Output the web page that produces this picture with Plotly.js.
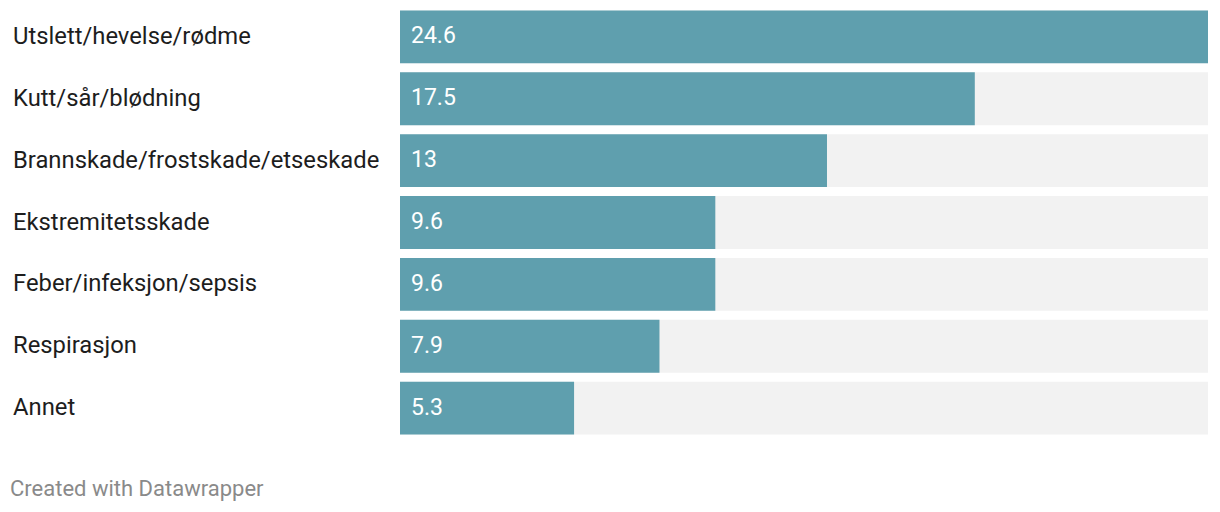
<!DOCTYPE html>
<html>
<head>
<meta charset="utf-8">
<script src="https://cdn.plot.ly/plotly-3.0.1.min.js"></script>
<style>html,body{margin:0;padding:0;background:#fff;}#chart{width:1220px;height:512px;}</style>
</head>
<body>
<div id="chart"></div>
<script>
const categories = ["Utslett/hevelse/rødme","Kutt/sår/blødning","Brannskade/frostskade/etseskade","Ekstremitetsskade","Feber/infeksjon/sepsis","Respirasjon","Annet"];
const values = [24.6, 17.5, 13, 9.6, 9.6, 7.9, 5.3];
const valueLabels = ["24.6","17.5","13","9.6","9.6","7.9","5.3"];
const maxVal = Math.max(...values);
const bgValues = categories.map(() => maxVal);

const W = 1220, H = 512;
const L = 400, R = 12, T = 5.5, B = 72.5;
const plotW = W - L - R;

const annotations = [];
categories.forEach((c, i) => {
  annotations.push({
    xref: 'paper', yref: 'y', x: (10.5 - L) / plotW, y: c, yshift: 1,
    xanchor: 'left', yanchor: 'middle', text: c, showarrow: false,
    font: {family: 'Roboto', size: 23.8, color: '#1d1d1d'}
  });
  annotations.push({
    xref: 'x', yref: 'y', x: 0, y: c, xshift: 8.5, yshift: 1,
    xanchor: 'left', yanchor: 'middle', text: valueLabels[i], showarrow: false,
    font: {family: 'Roboto', size: 23, color: '#ffffff'}
  });
});
annotations.push({
  xref: 'paper', yref: 'paper', x: (8 - L) / plotW, y: -(489 - (H - B)) / (H - T - B),
  xanchor: 'left', yanchor: 'middle', text: 'Created with Datawrapper', showarrow: false,
  font: {family: 'Roboto', size: 22, color: '#8a8a8a'}
});

const data = [
  {type: 'bar', orientation: 'h', y: categories, x: bgValues, marker: {color: '#f2f2f2'}, hoverinfo: 'skip'},
  {type: 'bar', orientation: 'h', y: categories, x: values, marker: {color: '#5f9fae'}}
];
const layout = {
  width: W, height: H,
  margin: {l: L, r: R, t: T, b: B, pad: 0},
  paper_bgcolor: '#ffffff', plot_bgcolor: '#ffffff',
  barmode: 'overlay', bargap: 9/62, showlegend: false,
  xaxis: {range: [0, maxVal], visible: false, fixedrange: true},
  yaxis: {autorange: 'reversed', showticklabels: false, showgrid: false, zeroline: false, showline: false, ticks: '', fixedrange: true},
  annotations: annotations,
  font: {family: 'Roboto'}
};
Plotly.newPlot('chart', data, layout, {displayModeBar: false, staticPlot: true});
</script>
</body>
</html>
